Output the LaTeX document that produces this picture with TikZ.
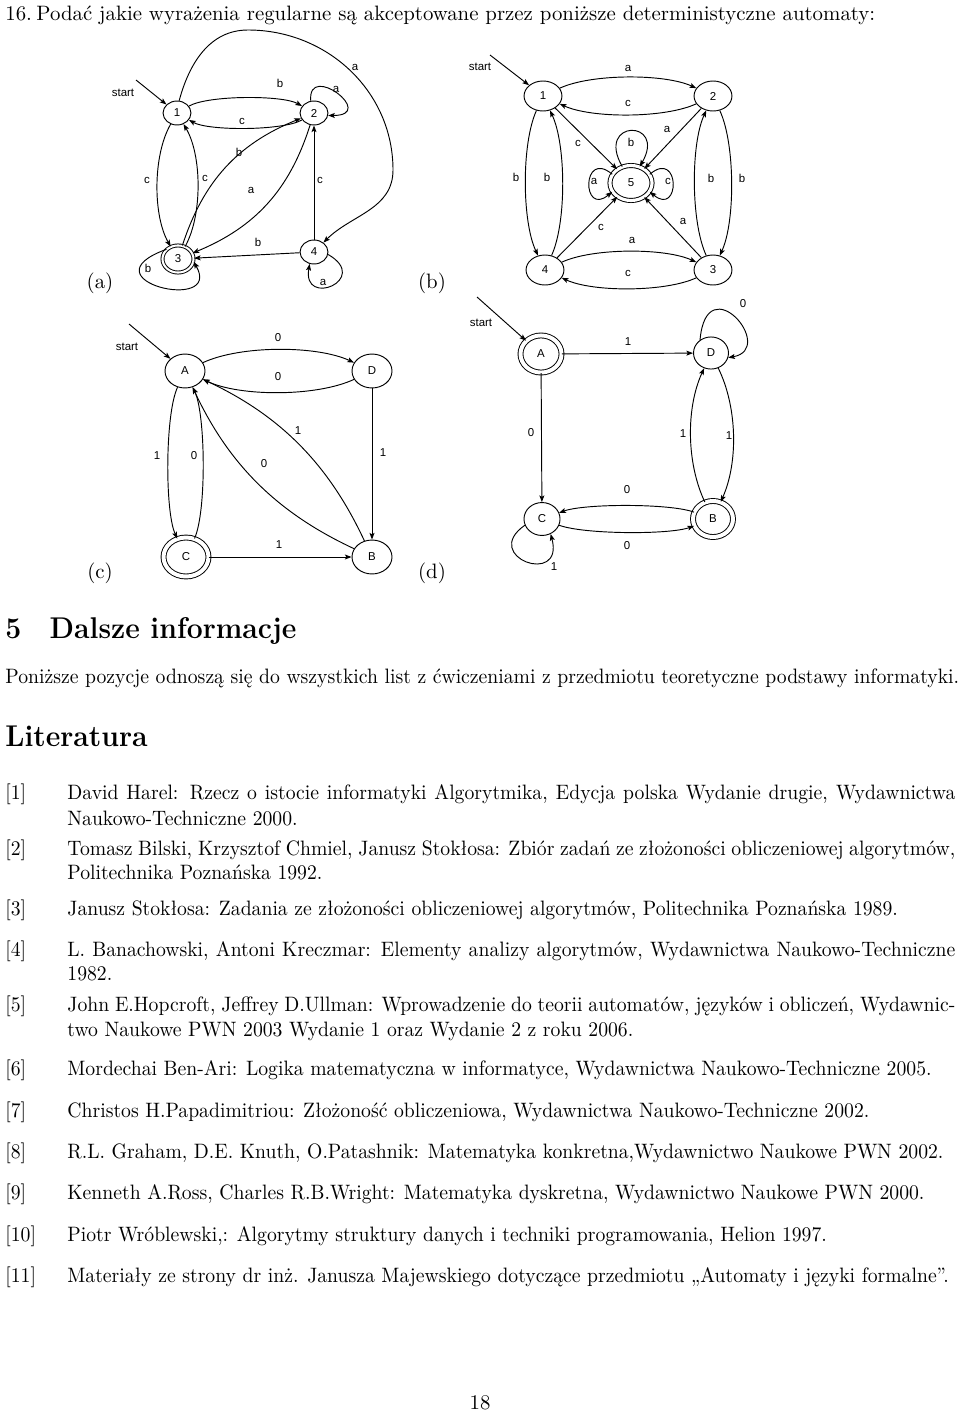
\documentclass[tikz,border=0pt]{standalone}
\usepackage{fontspec}
\newfontfamily\diagfont{Liberation Sans}
\usetikzlibrary{arrows.meta,shapes.geometric}
\newcommand\sx[1]{\scalebox{0.945}[1]{#1}}
\begin{document}
\begin{tikzpicture}[x=0.48pt,y=0.48pt,
  lb/.style={font=\diagfont\fontsize{5.5}{6.6}\selectfont, inner sep=0pt},
  st/.style={draw, ellipse, line width=0.45pt, inner sep=0pt, font=\diagfont\fontsize{5.5}{6.6}\selectfont},
  acc/.style={st, double, double distance=1.5pt},
  ed/.style={-{Stealth[length=3.2pt,width=2.4pt,inset=0.7pt]}, line width=0.45pt},
  txt/.style={anchor=base west, inner sep=0pt, font=\fontsize{10}{12}\selectfont},
  sub/.style={inner sep=0pt, font=\fontsize{10}{12}\selectfont},
]
\useasboundingbox (0,0) rectangle (960,-1413);

% ---------------- title
\node[txt] (t16n) at (5,-21) {16.};
\node[txt] (t16) at (36,-21) {Podać jakie wyrażenia regularne są akceptowane przez poniższe deterministyczne automaty:};

% ================= automaton (a)
\node[st, minimum width=13.4pt, minimum height=11.5pt] (a1) at (177,-113) {1};
\node[st, minimum width=13.4pt, minimum height=11.5pt] (a2) at (314,-113) {2};
\node[acc, minimum width=14.9pt, minimum height=13pt, double distance=1pt] (a3) at (178,-259) {3};
\node[st, minimum width=13.4pt, minimum height=11.5pt] (a4) at (314,-252) {4};
\coordinate (as) at (136,-80);
\coordinate (aT) at (248,-30);
\coordinate (aR) at (393,-170);
\node[lb] (asl) at (123,-93) {start};
\draw[ed] (as) -- (a1);
\draw[ed] (a1) to[bend left=30,looseness=.5] (a2);
\draw[ed] (a2) to[bend left=30,looseness=.5] (a1);
\draw[ed] (a1) to[bend right=30,looseness=.75] (a3);
\draw[ed] (a3) to[bend right=30,looseness=.75] (a1);
\draw[ed] (a3) to[bend left=25] (a2);
\draw[ed] (a2) to[bend left=25] (a3);
\draw[ed] (a4) -- (a2);
\draw[ed] (a4) -- (a3);
\draw[ed] (a1.80) to[out=75,in=180] (aT) to[out=0,in=90] (aR) to[out=-90,in=45] (a4.45);
\draw[ed] (a2.105) .. controls +(95:40) and +(0:50) .. (a2.-10);
\draw[ed] (a3.140) .. controls +(200:90) and +(-60:60) .. (a3.-10);
\draw[ed] (a4.-10) .. controls +(-30:50) and +(-100:45) .. (a4.-110);
\node[lb] (al1) at (280,-83) {b};
\node[lb] (al2) at (242,-121) {c};
\node[lb] (al3) at (336,-89) {a};
\node[lb] (al4) at (355,-67) {a};
\node[lb] (al5) at (147,-180) {c};
\node[lb] (al6) at (205,-178) {c};
\node[lb] (al7) at (239,-152) {b};
\node[lb] (al8) at (251,-190) {a};
\node[lb] (al9) at (320,-180) {c};
\node[lb] (al10) at (258,-242) {b};
\node[lb] (al11) at (148,-268) {b};
\node[lb] (al12) at (323,-282) {a};
\node[sub] (suba) at (100,-283) {(a)};

% ================= automaton (b)
\node[st, minimum width=18.2pt, minimum height=14.4pt] (b1) at (543,-96) {1};
\node[st, minimum width=18.2pt, minimum height=14.4pt] (b2) at (713,-96) {2};
\node[st, minimum width=18.2pt, minimum height=14.4pt] (b3) at (713,-270) {3};
\node[st, minimum width=18.2pt, minimum height=14.4pt] (b4) at (545,-270) {4};
\node[acc, minimum width=20.2pt, minimum height=16.8pt] (b5) at (631,-183) {5};
\coordinate (bs) at (490,-55);
\node[lb] (bsl) at (480,-67) {start};
\draw[ed] (bs) -- (b1);
\draw[ed] (b1) to[bend left=25,looseness=.65] (b2);
\draw[ed] (b2) to[bend left=25,looseness=.65] (b1);
\draw[ed] (b1) to[bend right=25,looseness=.65] (b4);
\draw[ed] (b4) to[bend right=25,looseness=.65] (b1);
\draw[ed] (b2) to[bend left=25,looseness=.65] (b3);
\draw[ed] (b3) to[bend left=25,looseness=.65] (b2);
\draw[ed] (b4) to[bend left=25,looseness=.65] (b3);
\draw[ed] (b3) to[bend left=25,looseness=.65] (b4);
\draw[ed] (b1) -- (b5);
\draw[ed] (b2) -- (b5);
\draw[ed] (b4) -- (b5);
\draw[ed] (b3) -- (b5);
\draw[ed] (b5.118) .. controls +(120:55) and +(60:55) .. (b5.62);
\draw[ed] (b5.155) .. controls +(140:40) and +(220:40) .. (b5.205);
\draw[ed] (b5.25) .. controls +(40:40) and +(-40:40) .. (b5.-25);
\node[lb] (bl1) at (628,-68) {a};
\node[lb] (bl2) at (628,-103) {c};
\node[lb] (bl3) at (516,-177) {b};
\node[lb] (bl4) at (547,-177) {b};
\node[lb] (bl5) at (742,-178) {b};
\node[lb] (bl6) at (711,-178) {b};
\node[lb] (bl7) at (632,-240) {a};
\node[lb] (bl8) at (628,-273) {c};
\node[lb] (bl9) at (578,-143) {c};
\node[lb] (bl10) at (667,-129) {a};
\node[lb] (bl11) at (601,-227) {c};
\node[lb] (bl12) at (683,-221) {a};
\node[lb] (bl13) at (631,-142) {b};
\node[lb] (bl14) at (594,-181) {a};
\node[lb] (bl15) at (668,-181) {c};
\node[sub] (subb) at (432,-283) {(b)};

% ================= automaton (c)
\node[st, minimum width=19.2pt, minimum height=16.3pt] (cA) at (185,-371) {A};
\node[st, minimum width=19.2pt, minimum height=16.3pt] (cD) at (372,-371) {D};
\node[acc, minimum width=21.6pt, minimum height=18.7pt, double distance=1.9pt] (cC) at (186,-557) {C};
\node[st, minimum width=19.2pt, minimum height=16.3pt] (cB) at (372,-557) {B};
\coordinate (cs) at (129,-324);
\node[lb] (csl) at (127,-347) {start};
\draw[ed] (cs) -- (cA);
\draw[ed] (cA) to[bend left=25,looseness=.7] (cD);
\draw[ed] (cD) to[bend left=25,looseness=.7] (cA);
\draw[ed] (cA) to[bend right=25,looseness=.5] (cC);
\draw[ed] (cC) to[bend right=25,looseness=.5] (cA);
\draw[ed] (cD) -- (cB);
\draw[ed] (cC) -- (cB);
\draw[ed] (cB) to[bend right=20,looseness=.95] (cA);
\draw[ed] (cB) to[bend left=20,looseness=.95] (cA);
\node[lb] (cl1) at (278,-338) {0};
\node[lb] (cl2) at (278,-377) {0};
\node[lb] (cl3) at (157,-456) {1};
\node[lb] (cl4) at (194,-456) {0};
\node[lb] (cl5) at (383,-453) {1};
\node[lb] (cl6) at (279,-545) {1};
\node[lb] (cl7) at (298,-431) {1};
\node[lb] (cl8) at (264,-464) {0};
\node[sub] (subc) at (100,-573) {(c)};

% ================= automaton (d)
\node[acc, minimum width=19.7pt, minimum height=17.8pt, double distance=1.9pt] (dA) at (541,-354) {A};
\node[st, minimum width=16.8pt, minimum height=15.4pt] (dD) at (711,-353) {D};
\node[st, minimum width=17.3pt, minimum height=15.8pt] (dC) at (542,-519) {C};
\node[acc, minimum width=19.2pt, minimum height=17.3pt, double distance=1.9pt] (dB) at (713,-519) {B};
\coordinate (ds) at (477,-297);
\node[lb] (dsl) at (481,-323) {start};
\draw[ed] (ds) -- (dA);
\draw[ed] (dA) -- (dD);
\draw[ed] (dA) -- (dC);
\draw[ed] (dB) to[bend left=25,looseness=.83] (dD);
\draw[ed] (dD) to[bend left=25,looseness=.83] (dB);
\draw[ed] (dB) to[bend right=20,looseness=.5] (dC);
\draw[ed] (dC) to[bend right=20,looseness=.5] (dB);
\draw[ed] (dD.130) .. controls +(85:75) and +(10:50) .. (dD.-15);
\draw[ed] (dC.200) .. controls +(215:55) and +(-75:55) .. (dC.-60);
\node[lb] (dl1) at (628,-342) {1};
\node[lb] (dl2) at (531,-433) {0};
\node[lb] (dl3) at (683,-434) {1};
\node[lb] (dl4) at (729,-436) {1};
\node[lb] (dl5) at (627,-490) {0};
\node[lb] (dl6) at (627,-546) {0};
\node[lb] (dl7) at (743,-304) {0};
\node[lb] (dl8) at (554,-567) {1};
\node[sub] (subd) at (432,-573) {(d)};

% ---------------- section text
\node[txt, font=\fontsize{14.4}{18}\selectfont\bfseries] (sec) at (5,-638) {\sx{5\hspace{14.4pt}Dalsze informacje}};
\node[txt] (p1) at (5,-683) {\sx{Poniższe pozycje odnoszą się do wszystkich list z ćwiczeniami z przedmiotu teoretyczne podstawy informatyki.}};
\node[txt, font=\fontsize{14.4}{18}\selectfont\bfseries] (lit) at (5,-746) {\sx{Literatura}};

\node[txt] (r1) at (5,-799) {\sx{[1]}};
\node[txt] (r1a) at (67,-799) {\sx{\makebox[451pt][s]{David Harel: Rzecz o istocie informatyki Algorytmika, Edycja polska Wydanie drugie, Wydawnictwa}}};
\node[txt] (r1b) at (67,-825) {\sx{Naukowo-Techniczne 2000.}};
\node[txt] (r2) at (5,-855) {\sx{[2]}};
\node[txt] (r2a) at (67,-855) {\sx{\makebox[451pt][s]{Tomasz Bilski, Krzysztof Chmiel, Janusz Stokłosa: Zbiór zadań ze złożoności obliczeniowej algorytmów,}}};
\node[txt] (r2b) at (67,-879) {\sx{Politechnika Poznańska 1992.}};
\node[txt] (r3) at (5,-915) {\sx{[3]}};
\node[txt] (r3a) at (67,-915) {\sx{Janusz Stokłosa: Zadania ze złożoności obliczeniowej algorytmów, Politechnika Poznańska 1989.}};
\node[txt] (r4) at (5,-956) {\sx{[4]}};
\node[txt] (r4a) at (67,-956) {\sx{\makebox[451pt][s]{L. Banachowski, Antoni Kreczmar: Elementy analizy algorytmów, Wydawnictwa Naukowo-Techniczne}}};
\node[txt] (r4b) at (67,-980) {\sx{1982.}};
\node[txt] (r5) at (5,-1011) {\sx{[5]}};
\node[txt] (r5a) at (67,-1011) {\sx{\makebox[451pt][s]{John E.Hopcroft, Jeffrey D.Ullman: Wprowadzenie do teorii automatów, języków i obliczeń, Wydawnic-}}};
\node[txt] (r5b) at (67,-1036) {\sx{two Naukowe PWN 2003 Wydanie 1 oraz Wydanie 2 z roku 2006.}};
\node[txt] (r6) at (5,-1075) {\sx{[6]}};
\node[txt] (r6a) at (67,-1075) {\sx{Mordechai Ben-Ari: Logika matematyczna w informatyce, Wydawnictwa Naukowo-Techniczne 2005.}};
\node[txt] (r7) at (5,-1117) {\sx{[7]}};
\node[txt] (r7a) at (67,-1117) {\sx{Christos H.Papadimitriou: Złożoność obliczeniowa, Wydawnictwa Naukowo-Techniczne 2002.}};
\node[txt] (r8) at (5,-1158) {\sx{[8]}};
\node[txt] (r8a) at (67,-1158) {\sx{R.L. Graham, D.E. Knuth, O.Patashnik: Matematyka konkretna,Wydawnictwo Naukowe PWN 2002.}};
\node[txt] (r9) at (5,-1199) {\sx{[9]}};
\node[txt] (r9a) at (67,-1199) {\sx{Kenneth A.Ross, Charles R.B.Wright: Matematyka dyskretna, Wydawnictwo Naukowe PWN 2000.}};
\node[txt] (r10) at (5,-1241) {\sx{[10]}};
\node[txt] (r10a) at (67,-1241) {\sx{Piotr Wróblewski,: Algorytmy struktury danych i techniki programowania, Helion 1997.}};
\node[txt] (r11) at (5,-1282) {\sx{[11]}};
\node[txt] (r11a) at (67,-1282) {\sx{Materiały ze strony dr inż. Janusza Majewskiego dotyczące przedmiotu „Automaty i języki formalne”.}};
\node[inner sep=0pt, anchor=base, font=\fontsize{10}{12}\selectfont] (pg) at (480,-1409) {18};
\end{tikzpicture}
\end{document}
